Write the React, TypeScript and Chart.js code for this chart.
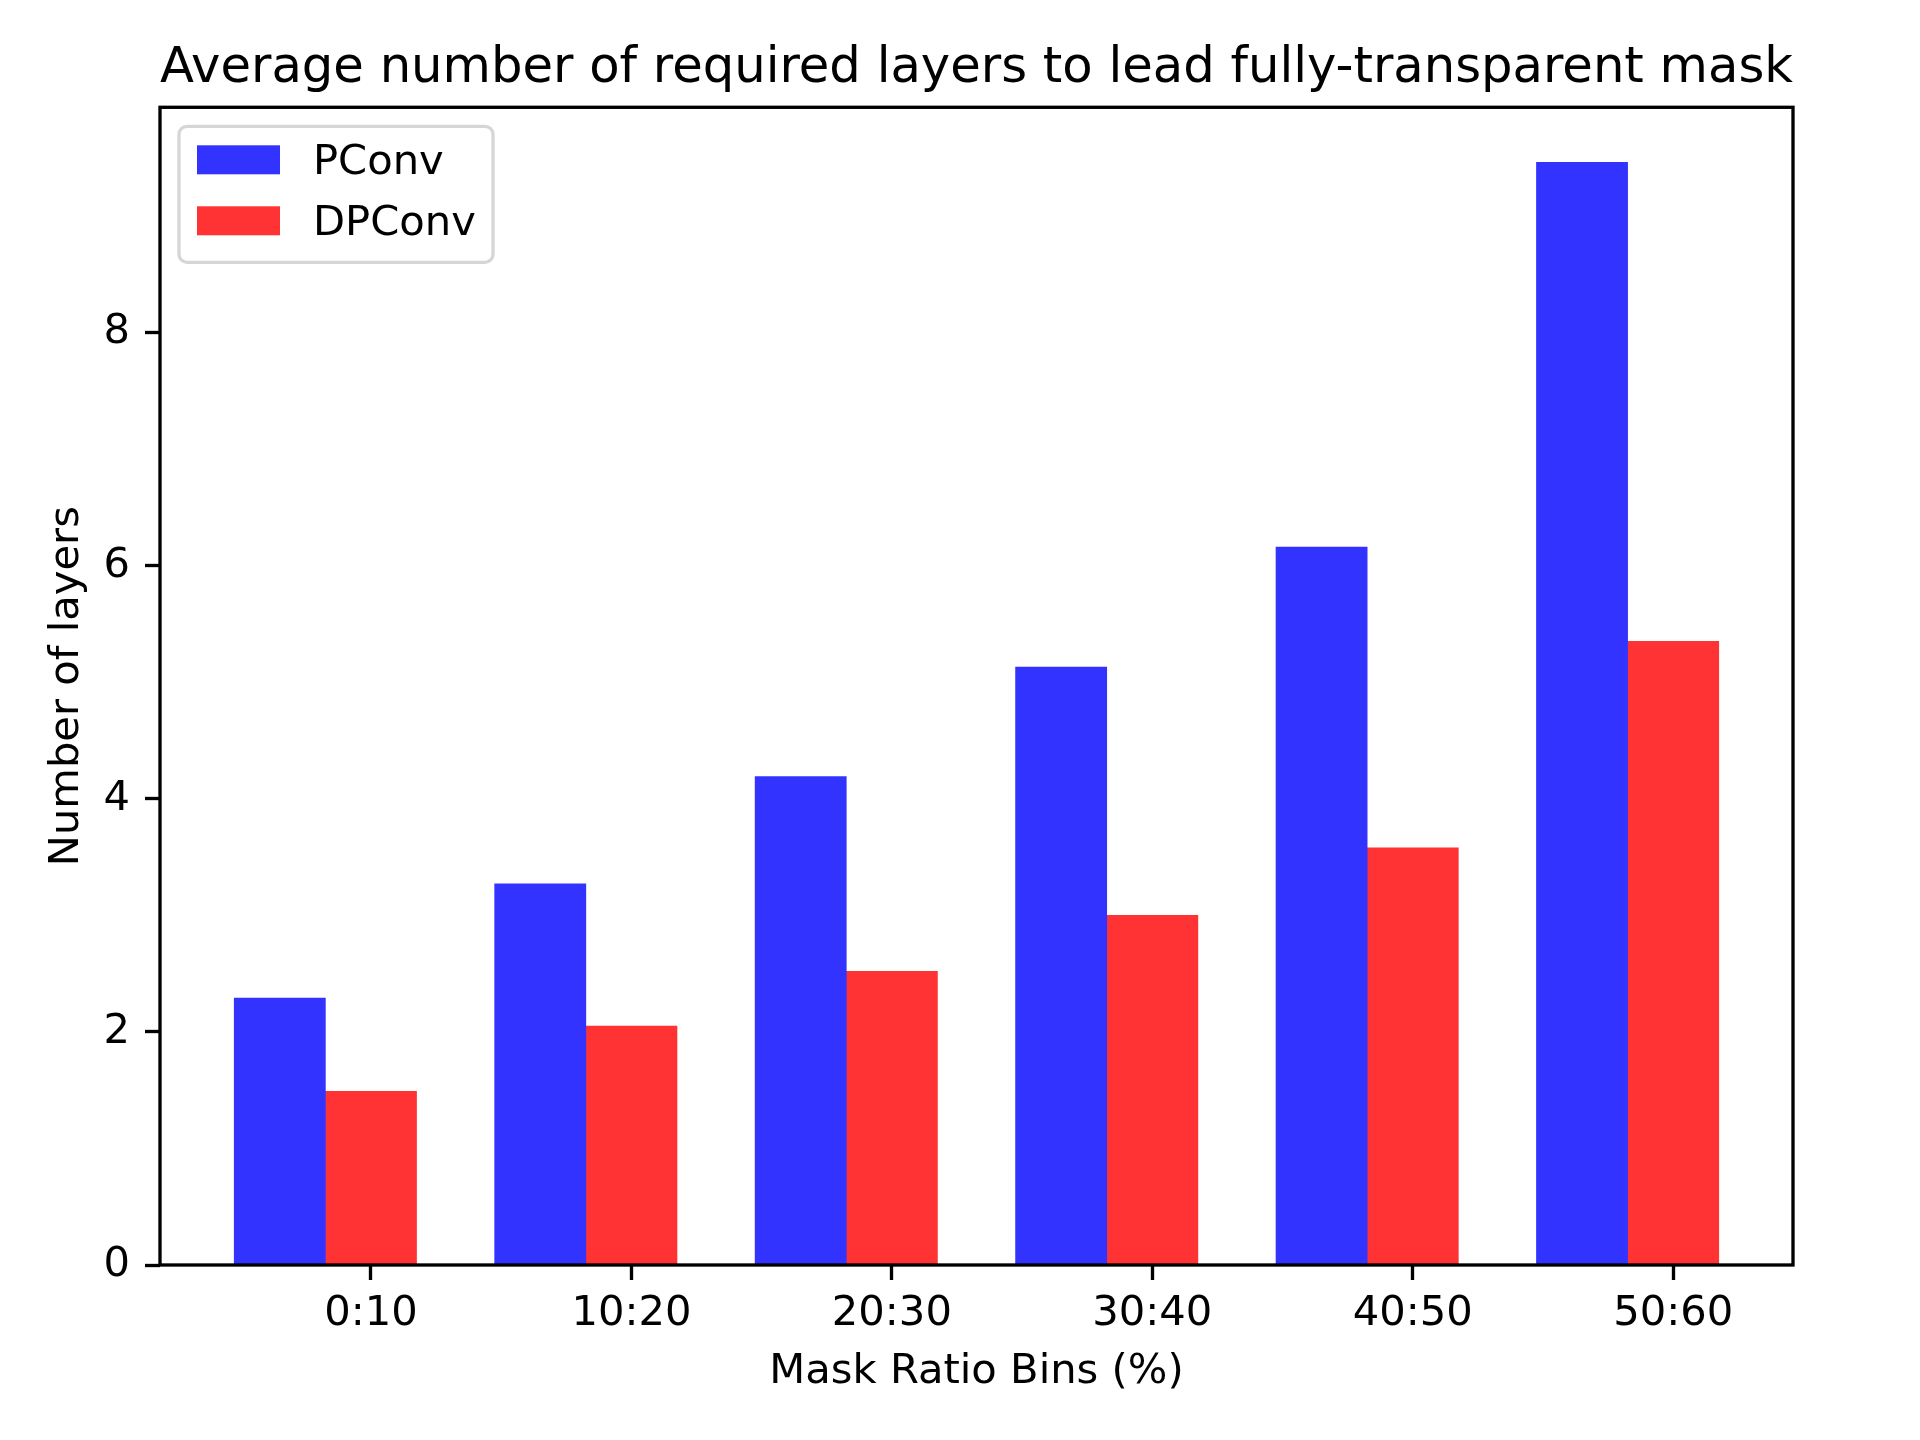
import React, { useEffect, useRef } from "react";
import { Chart, registerables } from "chart.js";

const binLabels = ["0:10", "10:20", "20:30", "30:40", "40:50", "50:60"];
const pconvLayers = [2.29, 3.27, 4.19, 5.13, 6.16, 9.46];
const dpconvLayers = [1.49, 2.05, 2.52, 3.0, 3.58, 5.35];
const yTickValues = [0, 2, 4, 6, 8];

const seriesNames = ["PConv", "DPConv"];
const seriesColors = ["#3333ff", "#ff3333"];

const BAR_WIDTH = 0.35;
const FONT = "'DejaVu Sans', sans-serif";

// matplotlib-style box around the plot area, drawn over the bars
const framePlugin = {
  id: "axesFrame",
  afterDatasetsDraw(chart: any) {
    const { ctx, chartArea: a } = chart;
    ctx.save();
    ctx.strokeStyle = "#000";
    ctx.lineWidth = 3.33;
    ctx.strokeRect(a.left, a.top, a.right - a.left, a.bottom - a.top);
    ctx.restore();
  },
};

// legend in the upper-left corner of the plot area, with a rounded frame
const legendPlugin = {
  id: "innerLegend",
  afterDraw(chart: any) {
    const { ctx, chartArea: a } = chart;
    const x = a.left + 19;
    const y = a.top + 19;
    const w = 314;
    const h = 136;
    ctx.save();
    ctx.beginPath();
    ctx.roundRect(x, y, w, h, 8);
    ctx.fillStyle = "rgba(255,255,255,0.8)";
    ctx.fill();
    ctx.lineWidth = 3.3;
    ctx.strokeStyle = "rgba(204,204,204,0.8)";
    ctx.stroke();

    ctx.font = `41.67px ${FONT}`;
    ctx.textBaseline = "alphabetic";
    ctx.textAlign = "left";
    chart.data.datasets.forEach((ds: any, i: number) => {
      const rowTop = y + 19 + i * 61;
      ctx.fillStyle = ds.backgroundColor;
      ctx.fillRect(x + 18, rowTop, 83, 29);
      ctx.fillStyle = "#000";
      ctx.fillText(ds.label, x + 134, rowTop + 29);
    });
    ctx.restore();
  },
};

export default function App() {
  const chartRef = useRef<HTMLCanvasElement | null>(null);

  useEffect(() => {
    Chart.register(...registerables);
    document.body.style.margin = "0";

    const last = binLabels.length - 1;
    const dataLeft = -BAR_WIDTH / 2;
    const dataRight = last + BAR_WIDTH * 1.5;
    const xMargin = (dataRight - dataLeft) * 0.05;
    const yMax = Math.max(...pconvLayers, ...dpconvLayers) * 1.05;

    const chartConfig: any = {
      type: "bar",
      data: {
        datasets: [
          {
            label: seriesNames[0],
            backgroundColor: seriesColors[0],
            data: pconvLayers.map((v, i) => ({ x: i, y: v })),
          },
          {
            label: seriesNames[1],
            backgroundColor: seriesColors[1],
            data: dpconvLayers.map((v, i) => ({ x: i + BAR_WIDTH, y: v })),
          },
        ],
      },
      options: {
        animation: false,
        responsive: false,
        devicePixelRatio: 1,
        grouped: false,
        barPercentage: 1,
        categoryPercentage: 1,
        layout: { padding: { left: 0, right: 127, top: 0, bottom: 0 } },
        plugins: {
          legend: { display: false },
          tooltip: { enabled: false },
          title: {
            display: true,
            fullSize: false,
            text: "Average number of required layers to lead fully-transparent mask",
            color: "#000",
            font: { family: FONT, size: 50.5, weight: "normal", lineHeight: 1.2 },
            padding: { top: 38.5, bottom: 8.2 },
          },
        },
        scales: {
          x: {
            type: "linear",
            offset: false,
            min: dataLeft - xMargin,
            max: dataRight + xMargin,
            afterBuildTicks: (scale: any) => {
              scale.ticks = binLabels.map((_, i) => ({ value: i + BAR_WIDTH }));
            },
            afterFit: (scale: any) => {
              scale.height = 175;
            },
            grid: {
              offset: false,
              drawOnChartArea: false,
              drawTicks: true,
              tickLength: 15,
              tickWidth: 3.33,
              tickColor: "#000",
            },
            border: { display: false },
            ticks: {
              autoSkip: false,
              maxRotation: 0,
              padding: 9,
              color: "#000",
              font: { family: FONT, size: 41.67 },
              callback: (_v: any, index: number) => binLabels[index],
            },
            title: {
              display: true,
              text: "Mask Ratio Bins (%)",
              color: "#000",
              font: { family: FONT, size: 41.67 },
              padding: { top: 0, bottom: 42.4 },
            },
          },
          y: {
            min: 0,
            max: yMax,
            afterBuildTicks: (scale: any) => {
              scale.ticks = yTickValues.map((v) => ({ value: v }));
            },
            afterFit: (scale: any) => {
              scale.width = 160;
            },
            grid: {
              drawOnChartArea: false,
              drawTicks: true,
              tickLength: 15,
              tickWidth: 3.33,
              tickColor: "#000",
            },
            border: { display: false },
            ticks: {
              padding: 15,
              color: "#000",
              font: { family: FONT, size: 41.67 },
              callback: (v: any) => String(v),
            },
            title: {
              display: true,
              text: "Number of layers",
              color: "#000",
              font: { family: FONT, size: 41.67 },
              padding: { top: 42.5, bottom: 0 },
            },
          },
        },
      },
      plugins: [framePlugin, legendPlugin],
    };

    const ctx = chartRef.current?.getContext("2d");
    if (ctx) {
      const myChart = new Chart(ctx, chartConfig);
      return () => {
        myChart.destroy();
      };
    }
  }, []);

  return (
    <div style={{ width: 1920, height: 1440, background: "#fff" }}>
      <canvas ref={chartRef} width={1920} height={1440} style={{ display: "block" }}></canvas>
    </div>
  );
}
